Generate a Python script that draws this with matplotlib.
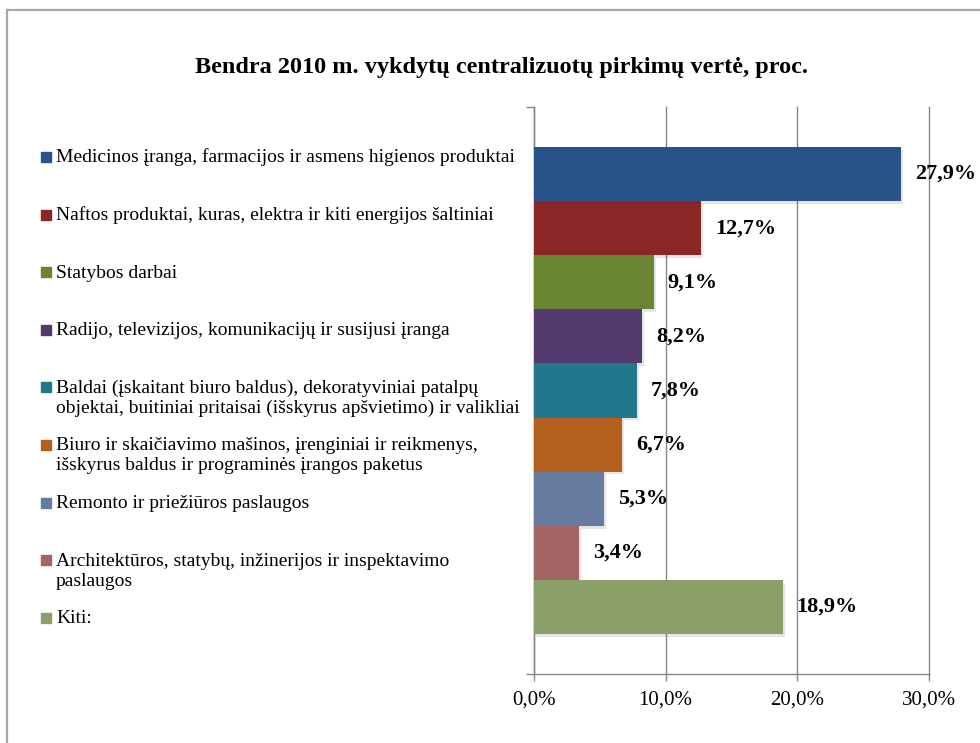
import matplotlib
matplotlib.use("Agg")
import matplotlib.pyplot as plt
from matplotlib.patches import Rectangle
import matplotlib.patheffects as pe

# ---- data ----
categories = [
    "Medicinos įranga, farmacijos ir asmens higienos produktai",
    "Naftos produktai, kuras, elektra ir kiti energijos šaltiniai",
    "Statybos darbai",
    "Radijo, televizijos, komunikacijų ir susijusi įranga",
    "Baldai (įskaitant biuro baldus), dekoratyviniai patalpų\nobjektai, buitiniai pritaisai (išskyrus apšvietimo) ir valikliai",
    "Biuro ir skaičiavimo mašinos, įrenginiai ir reikmenys,\nišskyrus baldus ir programinės įrangos paketus",
    "Remonto ir priežiūros paslaugos",
    "Architektūros, statybų, inžinerijos ir inspektavimo\npaslaugos",
    "Kiti:",
]
values = [27.9, 12.7, 9.1, 8.2, 7.8, 6.7, 5.3, 3.4, 18.9]
colors = ["#27528A", "#8A2726", "#6A8531", "#54396E", "#23778D",
          "#B35F1E", "#667BA0", "#A36564", "#8B9F6B"]
xticks = [0, 10, 20, 30]
xticklabels = ["0,0%", "10,0%", "20,0%", "30,0%"]
title = "Bendra 2010 m. vykdytų centralizuotų pirkimų vertė, proc."

W, H = 980, 743
fig = plt.figure(figsize=(W / 100, H / 100), dpi=100)
serif = ["Liberation Serif", "DejaVu Serif"]

# chart-area border (only top and left visible)
fig.patches.append(Rectangle((7 / W, -0.2), 2.0, (H - 10) / H + 0.2,
                             transform=fig.transFigure, fill=False,
                             edgecolor="#A6A6A6", lw=1.6, zorder=0))

ax = fig.add_axes([534 / W, (H - 674) / H, 395 / W, 567 / H])
n = len(values)
ypos = list(range(n))
bars = ax.barh(ypos, values, height=1.0, color=colors, zorder=3)
for b in bars:
    b.set_path_effects([pe.SimplePatchShadow(offset=(1.5, -2), shadow_rgbFace="#000000", alpha=0.10),
                        pe.Normal()])

ax.set_xlim(0, 30)
ax.set_ylim(n - 0.5 + 0.739, -0.5 - 0.739)
ax.set_xticks(xticks)
ax.set_xticklabels(xticklabels, fontfamily=serif, fontsize=15)
ax.set_yticks([n - 0.5 + 0.739, -0.5 - 0.739])
ax.set_yticklabels([])
ax.tick_params(axis="x", direction="out", length=5, width=1, color="#868686", pad=7)
ax.tick_params(axis="y", direction="out", length=6, width=1, color="#868686")
ax.grid(axis="x", color="#868686", lw=1, zorder=1)
for gl in ax.get_xgridlines():
    gl.set_clip_on(False)
for s in ["top", "right"]:
    ax.spines[s].set_visible(False)
for s in ["left", "bottom"]:
    ax.spines[s].set_color("#868686")
    ax.spines[s].set_linewidth(1)

# data labels
for y, v in zip(ypos, values):
    ax.annotate(f"{v:.1f}%".replace(".", ","), xy=(v, y), xytext=(10, 0),
                textcoords="offset points", va="center", ha="left",
                fontfamily=serif, fontweight="bold", fontsize=16, zorder=5)

# title
fig.text(0.5 * (190 + 812) / W, 1 - 68 / H, title, ha="center", va="center",
         fontfamily=serif, fontweight="bold", fontsize=17.5)

# manual legend
y0, dy, ldy = 157, 57.6, 20
for i, (lab, c) in enumerate(zip(categories, colors)):
    yc = y0 + i * dy
    fig.patches.append(Rectangle((41 / W, 1 - (yc + 5) / H), 10 / W, 10 / H,
                                 transform=fig.transFigure, color=c))
    for j, line in enumerate(lab.split("\n")):
        fig.text(56 / W, 1 - (yc + 5.5 + j * ldy) / H, line, ha="left", va="baseline",
                 fontfamily=serif, fontsize=14)

fig.savefig("out.png", dpi=100)
